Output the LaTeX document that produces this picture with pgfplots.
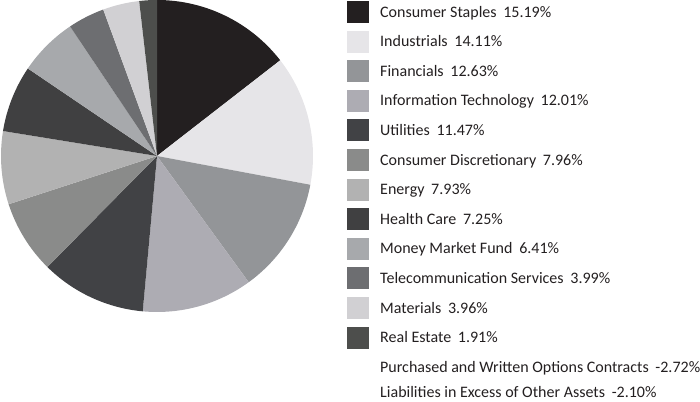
\documentclass[border=0pt]{standalone}
\usepackage{pgfplots}
\usepackage{pgfplotstable}
\pgfplotsset{compat=1.18}
\usepackage{fontspec}
\setmainfont{Carlito}
\definecolor{c1}{HTML}{231F20}
\definecolor{c2}{HTML}{E6E5E8}
\definecolor{c3}{HTML}{939598}
\definecolor{c4}{HTML}{ADACB3}
\definecolor{c5}{HTML}{414245}
\definecolor{c6}{HTML}{8A8B8A}
\definecolor{c7}{HTML}{B2B2B2}
\definecolor{c8}{HTML}{404041}
\definecolor{c9}{HTML}{A7A9AC}
\definecolor{c10}{HTML}{6D6E71}
\definecolor{c11}{HTML}{D1D0D3}
\definecolor{c12}{HTML}{4D4E4C}
\definecolor{txt}{HTML}{231F20}
\pgfplotstableread[col sep=comma]{
label,value,col,ypos
Consumer Staples,15.19,c1,12
Industrials,14.11,c2,41.6
Financials,12.63,c3,71.2
Information Technology,12.01,c4,100.8
Utilities,11.47,c5,130.4
Consumer Discretionary,7.96,c6,160
Energy,7.93,c7,189.6
Health Care,7.25,c8,219.2
Money Market Fund,6.41,c9,248.8
Telecommunication Services,3.99,c10,278.4
Materials,3.96,c11,308
Real Estate,1.91,c12,337.6
Purchased and Written Options Contracts,-2.72,white,367.4
Liabilities in Excess of Other Assets,-2.10,white,392.3
}\sectors
\begin{document}
\begin{tikzpicture}
\path[use as bounding box] (0,0) rectangle (700pt,401pt);
\begin{axis}[at={(0,0)}, anchor=south west, width=700pt, height=401pt,
  scale only axis, xmin=0, xmax=700, ymin=0, ymax=401, hide axis, clip=false]
\pgfplotsextra{
  \gdef\tot{0}
  \foreach \i in {0,...,11}{
    \pgfplotstablegetelem{\i}{value}\of\sectors
    \pgfmathsetmacro{\t}{\tot+\pgfplotsretval}
    \global\let\tot\t
  }
  \gdef\ang{90}
  \foreach \i in {0,...,11}{
    \pgfplotstablegetelem{\i}{value}\of\sectors
    \pgfmathsetmacro{\e}{\ang-\pgfplotsretval/\tot*360}
    \pgfplotstablegetelem{\i}{col}\of\sectors
    \let\cc\pgfplotsretval
    \fill[\cc] (axis cs:157,245) -- ++(\ang:156pt) arc[start angle=\ang, end angle=\e, radius=156pt] -- cycle;
    \global\let\ang\e
  }
  \foreach \i in {0,...,13}{
    \pgfplotstablegetelem{\i}{ypos}\of\sectors
    \let\cy\pgfplotsretval
    \pgfplotstablegetelem{\i}{label}\of\sectors
    \let\lab\pgfplotsretval
    \pgfplotstablegetelem{\i}{value}\of\sectors
    \let\val\pgfplotsretval
    \pgfplotstablegetelem{\i}{col}\of\sectors
    \let\cc\pgfplotsretval
    \ifnum\i<12
      \fill[\cc] (axis cs:347,{401-\cy+11}) rectangle (axis cs:369,{401-\cy-11});
    \fi
    \node[anchor=base west, inner sep=0pt, font=\fontsize{16}{19}\selectfont, text=txt]
      at (axis cs:380,{401-\cy-5.2}) {\lab\hspace{0.42em}\val\%};
  }
}
\end{axis}
\end{tikzpicture}
\end{document}
